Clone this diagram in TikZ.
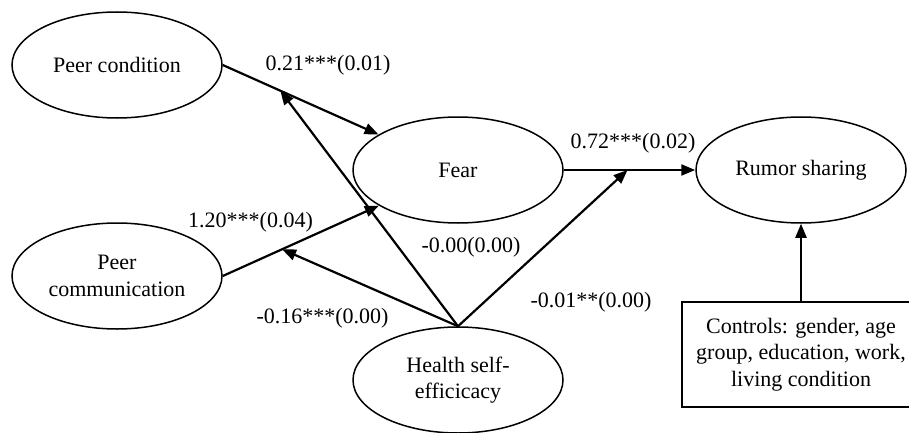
\documentclass[tikz,border=0pt]{standalone}
\usepackage{fontspec}
\setmainfont{Liberation Serif}
\usetikzlibrary{shapes.geometric,arrows.meta}
\begin{document}
\begin{tikzpicture}[x=1pt,y=-1pt,
  every node/.style={font=\fontsize{22}{26.5}\selectfont},
  ell/.style={draw,ellipse,line width=1.5pt,minimum width=210pt,minimum height=106pt,inner sep=0pt,align=center},
  box/.style={draw,rectangle,line width=1.5pt,minimum width=238pt,minimum height=105pt,align=center,inner sep=0pt},
  arr/.style={line width=2.2pt,-{Triangle[length=14pt,width=11pt]}},
  lbl/.style={inner sep=0pt}
]
\useasboundingbox (0,0) rectangle (909,433);
\node[ell] (pc) at (117,65) {Peer condition};
\node[ell] (pcom) at (117,276) {Peer\\communication};
\node[ell] (fear) at (458,170) {Fear};
\node[ell] (rs) at (801,170) {Rumor sharing};
\node[ell] (hse) at (458,380) {Health self-\\efficicacy};
\node[box] (ctrl) at (801,354.5) {Controls: gender, age\\group, education, work,\\living condition};

\draw[arr] (pc.east) -- coordinate[pos=0.37] (m1) (fear);
\draw[arr] (pcom.east) -- coordinate[pos=0.38] (m2) (fear);
\draw[arr] (fear) -- coordinate[pos=0.485] (m3) (rs);
\draw[arr] (hse.north) -- (m1);
\draw[arr] (hse.north) -- (m2);
\draw[arr] (hse.north) -- (m3);
\draw[arr] (ctrl.north) -- (rs.south);

\node[lbl] (l1) at (328,65) {0.21***(0.01)};
\node[lbl] (l2) at (250.5,222) {1.20***(0.04)};
\node[lbl] (l3) at (322.5,318) {-0.16***(0.00)};
\node[lbl] (l4) at (471,247) {-0.00(0.00)};
\node[lbl] (l5) at (591,302) {-0.01**(0.00)};
\node[lbl] (l6) at (633,143) {0.72***(0.02)};
\end{tikzpicture}
\end{document}
